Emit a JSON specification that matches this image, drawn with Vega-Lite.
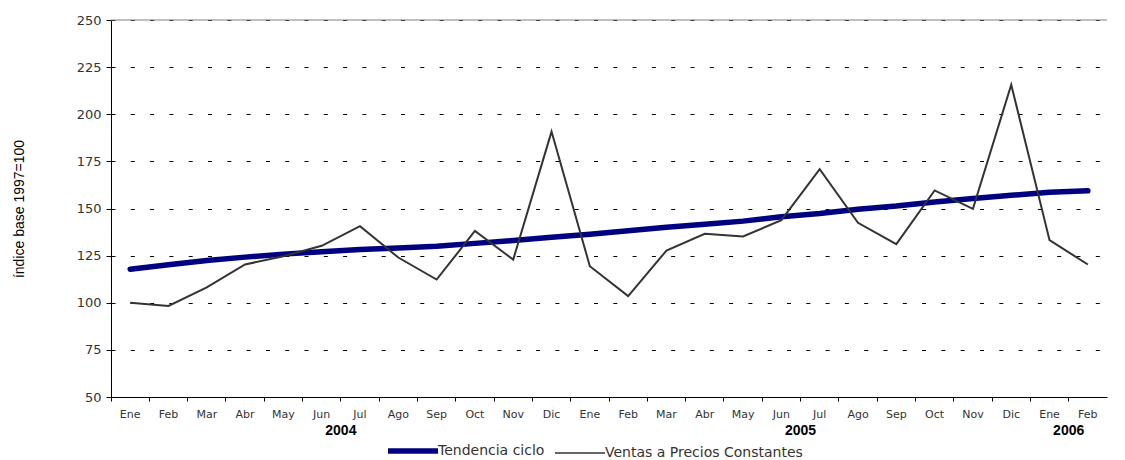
{
  "$schema": "https://vega.github.io/schema/vega-lite/v6.json",
  "width": 996,
  "height": 377,
  "autosize": {"type": "none"},
  "padding": {"left": 111, "top": 20, "right": 18, "bottom": 63},
  "background": "white",
  "config": {"view": {"stroke": null}, "font": "DejaVu Sans"},
  "datasets": {
    "series": [
      {"id": "2004-01", "serie": "Tendencia ciclo", "valor": 117.8},
      {"id": "2004-02", "serie": "Tendencia ciclo", "valor": 120.2},
      {"id": "2004-03", "serie": "Tendencia ciclo", "valor": 122.4},
      {"id": "2004-04", "serie": "Tendencia ciclo", "valor": 124.2},
      {"id": "2004-05", "serie": "Tendencia ciclo", "valor": 125.8},
      {"id": "2004-06", "serie": "Tendencia ciclo", "valor": 127.0},
      {"id": "2004-07", "serie": "Tendencia ciclo", "valor": 128.2},
      {"id": "2004-08", "serie": "Tendencia ciclo", "valor": 129.0},
      {"id": "2004-09", "serie": "Tendencia ciclo", "valor": 130.0},
      {"id": "2004-10", "serie": "Tendencia ciclo", "valor": 131.5},
      {"id": "2004-11", "serie": "Tendencia ciclo", "valor": 133.0},
      {"id": "2004-12", "serie": "Tendencia ciclo", "valor": 134.8},
      {"id": "2005-01", "serie": "Tendencia ciclo", "valor": 136.4},
      {"id": "2005-02", "serie": "Tendencia ciclo", "valor": 138.2},
      {"id": "2005-03", "serie": "Tendencia ciclo", "valor": 140.0},
      {"id": "2005-04", "serie": "Tendencia ciclo", "valor": 141.6},
      {"id": "2005-05", "serie": "Tendencia ciclo", "valor": 143.3},
      {"id": "2005-06", "serie": "Tendencia ciclo", "valor": 145.6},
      {"id": "2005-07", "serie": "Tendencia ciclo", "valor": 147.3},
      {"id": "2005-08", "serie": "Tendencia ciclo", "valor": 149.6},
      {"id": "2005-09", "serie": "Tendencia ciclo", "valor": 151.3},
      {"id": "2005-10", "serie": "Tendencia ciclo", "valor": 153.5},
      {"id": "2005-11", "serie": "Tendencia ciclo", "valor": 155.3},
      {"id": "2005-12", "serie": "Tendencia ciclo", "valor": 157.0},
      {"id": "2006-01", "serie": "Tendencia ciclo", "valor": 158.6},
      {"id": "2006-02", "serie": "Tendencia ciclo", "valor": 159.4},
      {"id": "2004-01", "serie": "Ventas a Precios Constantes", "valor": 100.0},
      {"id": "2004-02", "serie": "Ventas a Precios Constantes", "valor": 98.3},
      {"id": "2004-03", "serie": "Ventas a Precios Constantes", "valor": 108.1},
      {"id": "2004-04", "serie": "Ventas a Precios Constantes", "valor": 120.3},
      {"id": "2004-05", "serie": "Ventas a Precios Constantes", "valor": 124.7},
      {"id": "2004-06", "serie": "Ventas a Precios Constantes", "valor": 130.2},
      {"id": "2004-07", "serie": "Ventas a Precios Constantes", "valor": 140.6},
      {"id": "2004-08", "serie": "Ventas a Precios Constantes", "valor": 124.0},
      {"id": "2004-09", "serie": "Ventas a Precios Constantes", "valor": 112.3},
      {"id": "2004-10", "serie": "Ventas a Precios Constantes", "valor": 138.1},
      {"id": "2004-11", "serie": "Ventas a Precios Constantes", "valor": 122.9},
      {"id": "2004-12", "serie": "Ventas a Precios Constantes", "valor": 190.8},
      {"id": "2005-01", "serie": "Ventas a Precios Constantes", "valor": 119.4},
      {"id": "2005-02", "serie": "Ventas a Precios Constantes", "valor": 103.5},
      {"id": "2005-03", "serie": "Ventas a Precios Constantes", "valor": 127.7},
      {"id": "2005-04", "serie": "Ventas a Precios Constantes", "valor": 136.6},
      {"id": "2005-05", "serie": "Ventas a Precios Constantes", "valor": 135.2},
      {"id": "2005-06", "serie": "Ventas a Precios Constantes", "valor": 143.8},
      {"id": "2005-07", "serie": "Ventas a Precios Constantes", "valor": 170.9},
      {"id": "2005-08", "serie": "Ventas a Precios Constantes", "valor": 142.4},
      {"id": "2005-09", "serie": "Ventas a Precios Constantes", "valor": 131.1},
      {"id": "2005-10", "serie": "Ventas a Precios Constantes", "valor": 159.6},
      {"id": "2005-11", "serie": "Ventas a Precios Constantes", "valor": 149.8},
      {"id": "2005-12", "serie": "Ventas a Precios Constantes", "valor": 215.7},
      {"id": "2006-01", "serie": "Ventas a Precios Constantes", "valor": 133.2},
      {"id": "2006-02", "serie": "Ventas a Precios Constantes", "valor": 120.3}
    ],
    "years": [
      {"id": "2004-07", "year": "2004"},
      {"id": "2005-07", "year": "2005"},
      {"id": "2006-02", "year": "2006"}
    ]
  },
  "layer": [
    {
      "data": {"name": "series"},
      "transform": [{"filter": "datum.serie == 'Tendencia ciclo'"}],
      "mark": {"type": "line", "strokeCap": "round", "strokeJoin": "round", "strokeWidth": 5.5},
      "encoding": {
        "x": {
          "field": "id", "type": "ordinal",
          "scale": {"type": "band", "paddingInner": 0, "paddingOuter": 0},
          "axis": {
            "title": null, "labelAngle": 0, "bandPosition": 0,
            "labelExpr": "['Ene','Feb','Mar','Abr','May','Jun','Jul','Ago','Sep','Oct','Nov','Dic'][toNumber(slice(datum.value, 5)) - 1]",
            "domainColor": "#000", "tickColor": "#000", "tickSize": 4,
            "labelFontSize": 11, "labelColor": "#333", "labelPadding": 7, "grid": false
          }
        },
        "y": {
          "field": "valor", "type": "quantitative",
          "scale": {"domain": [50, 250], "nice": false, "zero": false},
          "axis": {
            "title": "índice base 1997=100", "values": [50, 75, 100, 125, 150, 175, 200, 225, 250],
            "grid": true, "gridColor": "#000", "gridDash": [4, 15.3], "gridWidth": 1,
            "domainColor": "#000", "tickColor": "#000", "tickSize": 5,
            "labelFontSize": 13, "labelColor": "#333", "labelPadding": 5,
            "titleFont": "Liberation Sans", "titleFontSize": 14, "titleFontWeight": "normal",
            "titleColor": "#000", "titlePadding": 50
          }
        },
        "color": {
          "field": "serie", "type": "nominal",
          "scale": {"domain": ["Tendencia ciclo", "Ventas a Precios Constantes"], "range": ["#000080", "#333333"]},
          "legend": {
            "title": null, "orient": "none", "legendX": 295, "legendY": 424, "direction": "horizontal",
            "symbolType": "stroke", "symbolSize": 2500, "labelFontSize": 14, "labelColor": "#333",
            "labelOffset": 18, "columnPadding": 7, "labelLimit": 400,
            "encode": {"symbols": {"update": {"strokeWidth": {"signal": "datum.value == 'Tendencia ciclo' ? 5.5 : 1.5"}}}}
          }
        }
      }
    },
    {
      "data": {"name": "series"},
      "transform": [{"filter": "datum.serie != 'Tendencia ciclo'"}],
      "mark": {"type": "line", "strokeWidth": 2},
      "encoding": {
        "x": {"field": "id", "type": "ordinal"},
        "y": {"field": "valor", "type": "quantitative"},
        "color": {"field": "serie", "type": "nominal"}
      }
    },
    {
      "data": {"values": [{}]},
      "mark": {"type": "rule", "color": "#808080", "strokeWidth": 1},
      "encoding": {"y": {"datum": 250}}
    },
    {
      "data": {"name": "years"},
      "mark": {"type": "text", "dy": 34, "fontWeight": "bold", "fontSize": 14, "font": "Liberation Sans", "color": "#000", "baseline": "middle"},
      "encoding": {
        "x": {"field": "id", "type": "ordinal", "bandPosition": 0},
        "y": {"datum": 50},
        "text": {"field": "year"}
      }
    }
  ]
}
